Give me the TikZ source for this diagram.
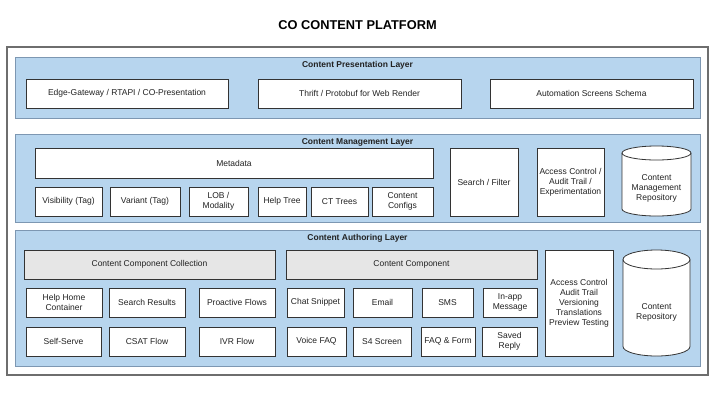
\documentclass[tikz,border=0pt]{standalone}
\usepackage{fontspec}
\setmainfont{Liberation Sans}
\usetikzlibrary{positioning}

\definecolor{layerblue}{HTML}{B7D5EE}
\definecolor{layerline}{HTML}{7D97B2}
\definecolor{groupgray}{HTML}{E6E6E6}
\definecolor{boxline}{HTML}{333333}
\definecolor{frameline}{HTML}{6E6E6E}
\definecolor{textdark}{HTML}{222222}

\tikzset{
  frame/.style={draw=frameline, line width=1.1pt, fill=white},
  layer/.style={rectangle, draw=layerline, line width=0.9pt, fill=layerblue, inner sep=0pt},
  layertitle/.style={font=\bfseries\fontsize{8.5}{10}\selectfont, text=textdark, inner sep=1pt},
  compbox/.style={rectangle, draw=boxline, line width=0.8pt, fill=white, align=center, inner sep=0pt,
    text=textdark, font=\fontsize{8.5}{10}\selectfont},
  groupbox/.style={compbox, fill=groupgray},
  repotext/.style={align=center, inner sep=0pt, text=textdark, font=\fontsize{8.5}{10}\selectfont},
  cylline/.style={draw=boxline, line width=0.8pt, fill=white}
}

\begin{document}
\begin{tikzpicture}[x=1pt, y=-1pt]
\useasboundingbox (0,0) rectangle (715,400);

\node (title) at (357.5,25.5) {\bfseries\fontsize{12.8}{14}\selectfont CO CONTENT PLATFORM};
\draw[frame] (7,47) rectangle (708,375);

% presentation layer
\node (pres) [layer, minimum width=685pt, minimum height=61pt] at (357.5,87.5) {};
\node (prestitle) [layertitle, below=3.5pt of pres.north] {Content Presentation Layer};
\node (edge) [compbox, minimum width=202pt, minimum height=29pt] at (127,93.5) {Edge-Gateway / RTAPI / CO-Presentation};
\node (thrift) [compbox, minimum width=203pt, minimum height=29pt] at (359.5,93.5) {Thrift / Protobuf for Web Render};
\node (autoschema) [compbox, minimum width=203pt, minimum height=29pt] at (591.5,93.5) {Automation Screens Schema};

% management layer
\node (mgmt) [layer, minimum width=685pt, minimum height=88pt] at (357.5,178) {};
\node (mgmttitle) [layertitle, below=3.5pt of mgmt.north] {Content Management Layer};
\node (meta) [compbox, minimum width=398pt, minimum height=30pt] at (234,163) {Metadata};
\node (visib) [compbox, minimum width=67pt, minimum height=29pt] at (68.5,201.5) {Visibility (Tag)};
\node (variant) [compbox, minimum width=70pt, minimum height=29pt] at (145,201.5) {Variant (Tag)};
\node (lob) [compbox, minimum width=59pt, minimum height=29pt] at (218.5,201.5) {LOB /\\Modality};
\node (helptree) [compbox, minimum width=48pt, minimum height=29pt] at (282,201.5) {Help Tree};
\node (cttrees) [compbox, minimum width=57pt, minimum height=29pt] at (339.5,201.5) {CT Trees};
\node (configs) [compbox, minimum width=61pt, minimum height=29pt] at (402.5,201.5) {Content\\Configs};
\node (search) [compbox, minimum width=68pt, minimum height=68pt] at (484,182) {Search / Filter};
\node (mgmtacc) [compbox, minimum width=67pt, minimum height=68pt] at (570.5,182) {Access Control /\\Audit Trail /\\Experimentation};
\draw[cylline] (622,153) -- (622,209) arc[start angle=180, end angle=360, x radius=34.5pt, y radius=7pt]
  -- (691,153) arc[start angle=0, end angle=180, x radius=34.5pt, y radius=7pt] -- cycle;
\draw[cylline, fill=none] (622,153) arc[start angle=180, end angle=360, x radius=34.5pt, y radius=7pt];
\node (mgmtrepo) [repotext] at (656.5,188) {Content\\Management\\Repository};

% authoring layer
\node (auth) [layer, minimum width=685pt, minimum height=136pt] at (357.5,298) {};
\node (authtitle) [layertitle, below=3.5pt of auth.north] {Content Authoring Layer};
\node (collection) [groupbox, minimum width=251pt, minimum height=29pt] at (149.5,264.5) {Content Component Collection};
\node (component) [groupbox, minimum width=251pt, minimum height=29pt] at (411.5,264.5) {Content Component};
\node (helphome) [compbox, minimum width=76pt, minimum height=29pt] at (64,302.5) {Help Home\\Container};
\node (results) [compbox, minimum width=76pt, minimum height=29pt] at (147,302.5) {Search Results};
\node (proactive) [compbox, minimum width=76pt, minimum height=29pt] at (237,302.5) {Proactive Flows};
\node (chat) [compbox, minimum width=57pt, minimum height=29pt] at (315.5,302.5) {Chat Snippet};
\node (email) [compbox, minimum width=59pt, minimum height=29pt] at (382.5,302.5) {Email};
\node (sms) [compbox, minimum width=51pt, minimum height=29pt] at (447.5,302.5) {SMS};
\node (inapp) [compbox, minimum width=54pt, minimum height=29pt] at (510,302.5) {In-app\\Message};
\node (selfserve) [compbox, minimum width=75pt, minimum height=29pt] at (63.5,341.5) {Self-Serve};
\node (csat) [compbox, minimum width=76pt, minimum height=29pt] at (147,341.5) {CSAT Flow};
\node (ivr) [compbox, minimum width=76pt, minimum height=29pt] at (237,341.5) {IVR Flow};
\node (voice) [compbox, minimum width=59pt, minimum height=29pt] at (316.5,341.5) {Voice FAQ};
\node (sfour) [compbox, minimum width=58pt, minimum height=29pt] at (382,341.5) {S4 Screen};
\node (faqform) [compbox, minimum width=54pt, minimum height=29pt] at (448,341.5) {FAQ \& Form};
\node (saved) [compbox, minimum width=55pt, minimum height=29pt] at (509.5,341.5) {Saved\\Reply};
\node (authacc) [compbox, minimum width=68pt, minimum height=106pt] at (579,303) {Access Control\\Audit Trail\\Versioning\\Translations\\Preview Testing};
\draw[cylline] (623,259.5) -- (623,346.5) arc[start angle=180, end angle=360, x radius=33.5pt, y radius=9.5pt]
  -- (690,259.5) arc[start angle=0, end angle=180, x radius=33.5pt, y radius=9.5pt] -- cycle;
\draw[cylline, fill=none] (623,259.5) arc[start angle=180, end angle=360, x radius=33.5pt, y radius=9.5pt];
\node (authrepo) [repotext] at (656.5,312.5) {Content\\Repository};
\end{tikzpicture}
\end{document}
